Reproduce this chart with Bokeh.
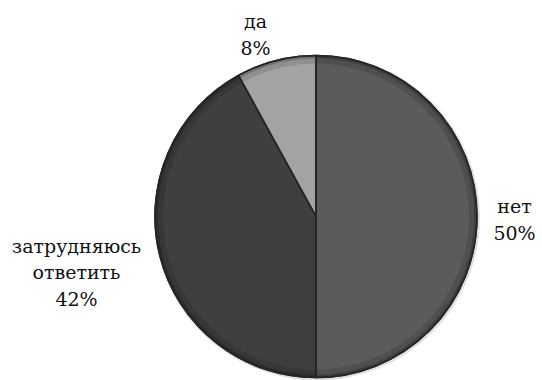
import math
from bokeh.plotting import figure
from bokeh.models import ColumnDataSource
from bokeh.core.properties import value
from bokeh.embed import file_html
from bokeh.resources import INLINE

# data
categories = ["нет", "затрудняюсь\nответить", "да"]
percents = [50, 42, 8]
colors = ["#5b5b5b", "#3f3f3f", "#a3a3a3"]

W, H = 542, 380
cx, cy, R = 315.5, H - 216, 161
# label anchor (pixel coords, top-left origin) for each category
label_pos = [(514, 219), (76, 272), (255, 34)]

total = sum(percents)
starts, ends = [], []
cum = 0.0
for v in percents:
    starts.append(math.pi / 2 - cum / total * 2 * math.pi)
    cum += v
    ends.append(math.pi / 2 - cum / total * 2 * math.pi)

src = ColumnDataSource(dict(
    x=[cx] * len(percents), y=[cy] * len(percents),
    start=starts, end=ends, color=colors,
))

p = figure(width=W, height=H, x_range=(0, W), y_range=(0, H),
           output_backend="svg", toolbar_location=None, min_border=0)
p.axis.visible = False
p.grid.visible = False
p.outline_line_color = None
p.background_fill_color = "white"

# soft shadow ring
p.circle(x=[cx + 1], y=[cy - 1], radius=R + 2, fill_color="#000000",
         fill_alpha=0.12, line_color=None)

p.wedge(x="x", y="y", radius=R, start_angle="start", end_angle="end",
        direction="clock", fill_color="color", line_color="#262626",
        line_width=1.5, source=src)
# darker bevel near the rim
p.annular_wedge(x="x", y="y", inner_radius=R - 8, outer_radius=R,
                start_angle="start", end_angle="end", direction="clock",
                fill_color="#000000", fill_alpha=0.12, line_color=None,
                source=src)
p.annular_wedge(x="x", y="y", inner_radius=R - 3, outer_radius=R,
                start_angle="start", end_angle="end", direction="clock",
                fill_color="#000000", fill_alpha=0.2, line_color=None,
                source=src)
p.wedge(x="x", y="y", radius=R, start_angle="start", end_angle="end",
        direction="clock", fill_color=None, line_color="#262626",
        line_width=1.5, source=src)

labels = [f"{c}\n{v}%" for c, v in zip(categories, percents)]
lsrc = ColumnDataSource(dict(
    x=[lp[0] for lp in label_pos],
    y=[H - lp[1] for lp in label_pos],
    text=labels,
))
p.text(x="x", y="y", text="text", source=lsrc, text_align="center",
       text_baseline="middle",
       text_font=value("DejaVu Serif"),
       text_font_size="19px", text_color="#111111", text_line_height=1.22)

open("out.html", "w").write(file_html(p, INLINE))
